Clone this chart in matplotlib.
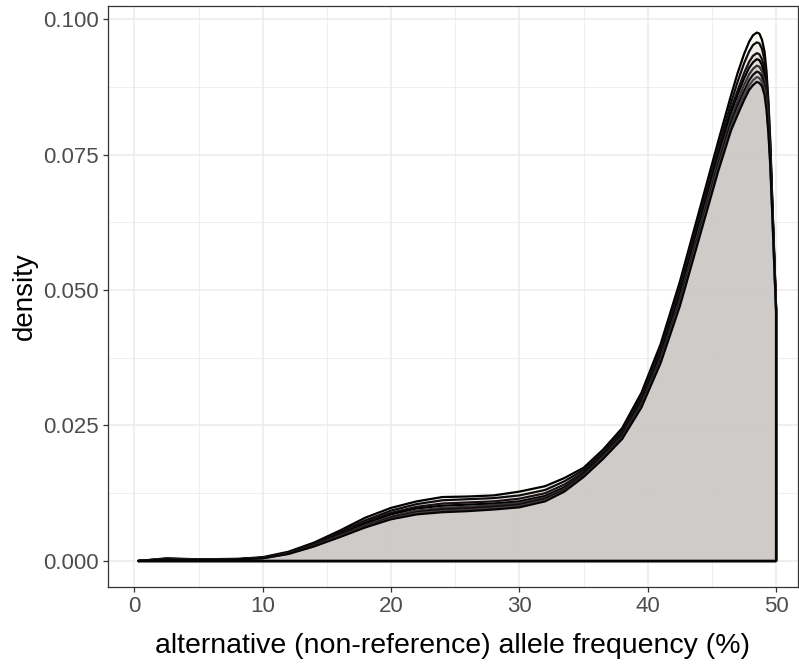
import matplotlib
matplotlib.use("Agg")
import matplotlib.pyplot as plt

plt.rcParams['font.family'] = ['Liberation Sans', 'DejaVu Sans']

freq = [0.3, 2.5, 5, 8, 10, 12, 14, 16, 18, 20, 22, 24, 26, 28, 30, 32, 33.5,
        35, 36.5, 38, 39.5, 41, 42.5, 44, 45.5, 46.5, 47.0, 47.5, 47.9, 48.2,
        48.5, 48.7, 48.9, 49.1, 49.25, 49.4, 49.55, 49.7, 49.85, 50]

# one density curve per sample
sample_a = [0.0000, 0.0005, 0.0003, 0.0004, 0.0007, 0.0017, 0.0034, 0.0056, 0.0080, 0.0098,
            0.0110, 0.0118, 0.0119, 0.0121, 0.0128, 0.0138, 0.0153, 0.0172, 0.0205, 0.0245,
            0.0310, 0.0400, 0.0515, 0.0645, 0.0775, 0.0860, 0.0900, 0.0935, 0.0958, 0.0970,
            0.0975, 0.0973, 0.0962, 0.0940, 0.0905, 0.0850, 0.0775, 0.0670, 0.0570, 0.0470]
sample_b = [0.0000, 0.0004, 0.0003, 0.0003, 0.0006, 0.0016, 0.0032, 0.0053, 0.0075, 0.0093,
            0.0105, 0.0112, 0.0114, 0.0116, 0.0121, 0.0131, 0.0147, 0.0168, 0.0200, 0.0240,
            0.0303, 0.0392, 0.0506, 0.0635, 0.0763, 0.0846, 0.0884, 0.0918, 0.0940, 0.0952,
            0.0957, 0.0955, 0.0945, 0.0925, 0.0892, 0.0840, 0.0767, 0.0665, 0.0567, 0.0468]
sample_c = [0.0000, 0.0004, 0.0002, 0.0003, 0.0006, 0.0015, 0.0031, 0.0051, 0.0072, 0.0089,
            0.0100, 0.0106, 0.0108, 0.0110, 0.0115, 0.0125, 0.0141, 0.0164, 0.0197, 0.0236,
            0.0298, 0.0386, 0.0498, 0.0627, 0.0754, 0.0834, 0.0868, 0.0900, 0.0921, 0.0932,
            0.0937, 0.0935, 0.0926, 0.0908, 0.0876, 0.0828, 0.0758, 0.0660, 0.0563, 0.0466]
sample_d = [0.0000, 0.0003, 0.0002, 0.0003, 0.0006, 0.0015, 0.0030, 0.0049, 0.0069, 0.0086,
            0.0097, 0.0102, 0.0104, 0.0106, 0.0110, 0.0120, 0.0136, 0.0160, 0.0194, 0.0232,
            0.0293, 0.0380, 0.0490, 0.0620, 0.0748, 0.0828, 0.0860, 0.0890, 0.0910, 0.0920,
            0.0926, 0.0924, 0.0915, 0.0896, 0.0866, 0.0818, 0.0750, 0.0656, 0.0560, 0.0465]
sample_e = [0.0000, 0.0004, 0.0002, 0.0003, 0.0005, 0.0014, 0.0029, 0.0047, 0.0066, 0.0082,
            0.0093, 0.0098, 0.0100, 0.0103, 0.0107, 0.0117, 0.0133, 0.0158, 0.0192, 0.0230,
            0.0290, 0.0375, 0.0483, 0.0612, 0.0740, 0.0818, 0.0849, 0.0878, 0.0898, 0.0908,
            0.0914, 0.0912, 0.0904, 0.0886, 0.0857, 0.0810, 0.0744, 0.0652, 0.0557, 0.0464]
sample_f = [0.0000, 0.0003, 0.0002, 0.0003, 0.0005, 0.0014, 0.0028, 0.0046, 0.0064, 0.0080,
            0.0090, 0.0095, 0.0097, 0.0100, 0.0104, 0.0115, 0.0131, 0.0157, 0.0190, 0.0228,
            0.0287, 0.0371, 0.0478, 0.0605, 0.0732, 0.0810, 0.0840, 0.0867, 0.0887, 0.0897,
            0.0903, 0.0901, 0.0894, 0.0876, 0.0848, 0.0802, 0.0738, 0.0648, 0.0554, 0.0462]
sample_g = [0.0000, 0.0003, 0.0002, 0.0003, 0.0005, 0.0013, 0.0027, 0.0045, 0.0063, 0.0078,
            0.0088, 0.0092, 0.0094, 0.0097, 0.0101, 0.0112, 0.0129, 0.0156, 0.0189, 0.0226,
            0.0285, 0.0368, 0.0474, 0.0600, 0.0726, 0.0802, 0.0831, 0.0858, 0.0877, 0.0887,
            0.0893, 0.0891, 0.0884, 0.0868, 0.0840, 0.0796, 0.0733, 0.0645, 0.0552, 0.0461]
sample_h = [0.0000, 0.0003, 0.0002, 0.0003, 0.0005, 0.0013, 0.0027, 0.0044, 0.0062, 0.0077,
            0.0086, 0.0090, 0.0092, 0.0095, 0.0099, 0.0110, 0.0128, 0.0155, 0.0188, 0.0225,
            0.0283, 0.0365, 0.0470, 0.0595, 0.0720, 0.0795, 0.0823, 0.0850, 0.0869, 0.0878,
            0.0884, 0.0882, 0.0876, 0.0860, 0.0833, 0.0790, 0.0728, 0.0642, 0.0550, 0.0460]

samples = [sample_a, sample_b, sample_c, sample_d, sample_e, sample_f, sample_g, sample_h]
fills = ["#ece4c8", "#d6d3d2", "#c3bfc0", "#e1dcd2", "#aeaaad", "#cdc9c9", "#bab6b8", "#dad6d3"]
edges = ["#000000", "#0d0d0d", "#1a1014", "#000000", "#333333", "#140a10", "#444444", "#050505"]

y_ticks = [0.0, 0.025, 0.05, 0.075, 0.1]
y_ticklabels = ["0.000", "0.025", "0.050", "0.075", "0.100"]
x_ticks = [0, 10, 20, 30, 40, 50]

fig = plt.figure(figsize=(7.99, 6.70), dpi=100)
ax = fig.add_axes([108 / 799, 1 - 587 / 670, 689.5 / 799, 581 / 670])

for vals, fc, ec in zip(samples, fills, edges):
    xs = freq + [freq[-1], freq[0]]
    ys = vals + [0.0, 0.0]
    face = matplotlib.colors.to_rgba(fc, 0.25)
    ax.fill(xs, ys, facecolor=face, edgecolor=ec, linewidth=1.6, joinstyle='round', zorder=3)

ax.set_xlim(-2.06, 51.67)
ax.set_ylim(-0.0048, 0.1024)

# theme_bw look
ax.set_xticks(x_ticks)
ax.set_xticks([5, 15, 25, 35, 45], minor=True)
ax.set_yticks(y_ticks)
ax.set_yticklabels(y_ticklabels)
ax.set_yticks([0.0125, 0.0375, 0.0625, 0.0875], minor=True)
ax.grid(True, which='major', color='#ebebeb', linewidth=1.1, zorder=0)
ax.grid(True, which='minor', color='#ebebeb', linewidth=0.55, zorder=0)
ax.set_axisbelow(True)
ax.tick_params(which='major', length=3.7, width=0.9, color='#333333',
               labelsize=16, labelcolor='#4d4d4d', pad=3)
ax.tick_params(which='minor', length=0)
for s in ax.spines.values():
    s.set_color('#333333')
    s.set_linewidth(0.9)

ax.set_xlabel("alternative (non-reference) allele frequency (%)", fontsize=20.5, labelpad=11)
ax.set_ylabel("density", fontsize=20, labelpad=4)

fig.savefig("out.png", dpi=100)
